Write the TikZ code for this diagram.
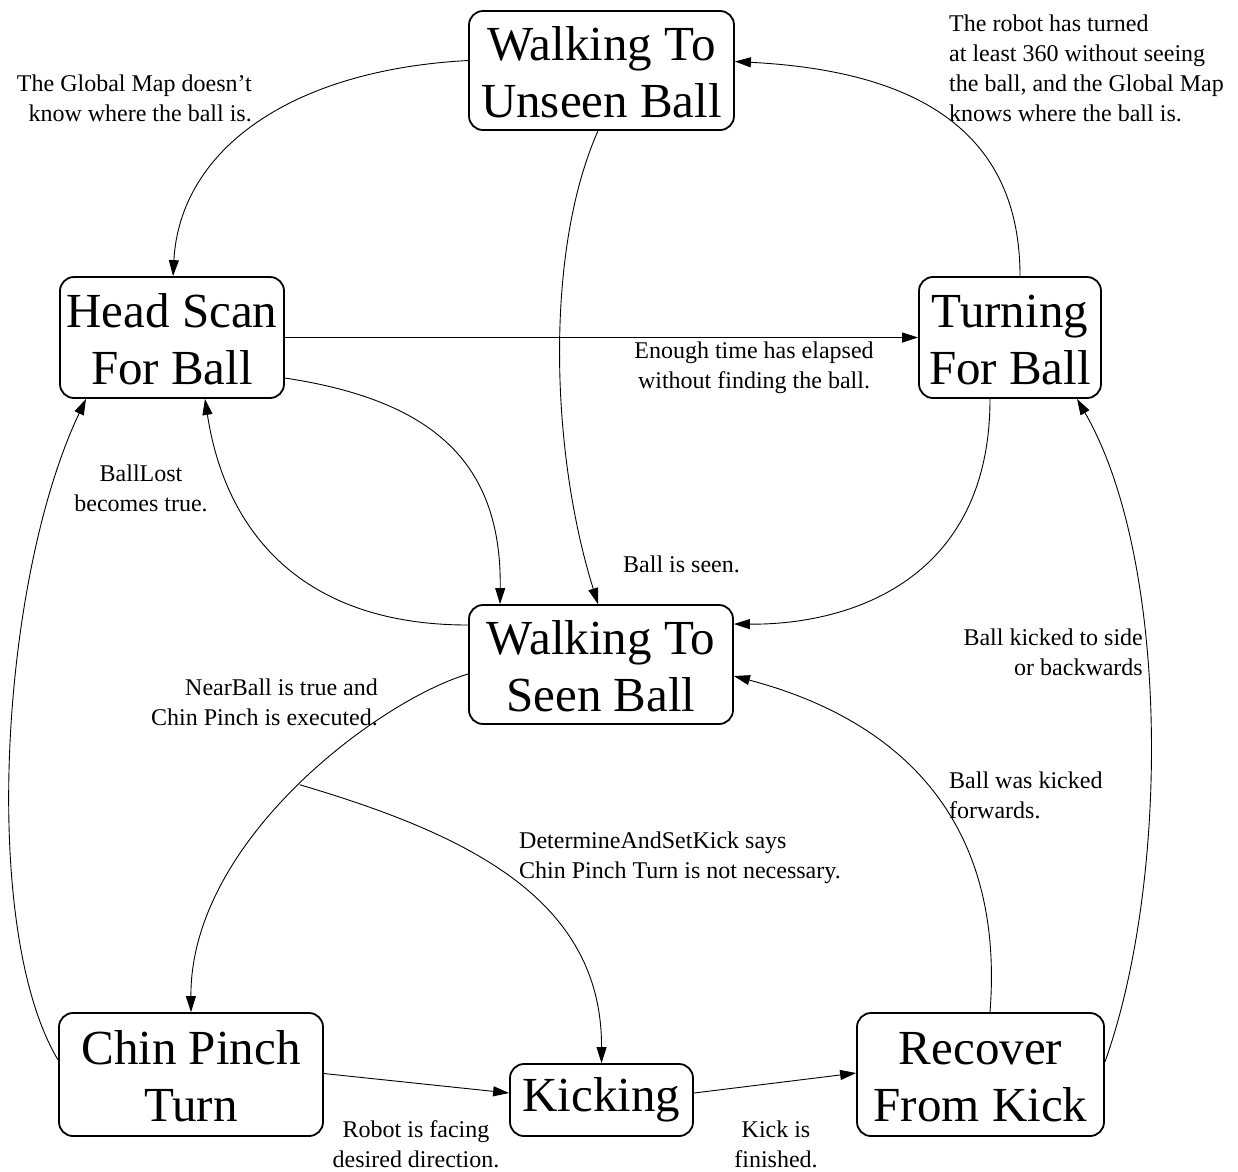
\documentclass[tikz,border=0pt]{standalone}
\usepackage{fontspec}
\setmainfont{Liberation Serif}
\usetikzlibrary{arrows.meta,calc}
\begin{document}
\begin{tikzpicture}[x=1pt,y=-1pt,
  state/.style={draw,line width=1.8pt,rounded corners=14pt,inner sep=0pt,align=center,
    font=\fontsize{49}{57}\selectfont},
  lbl/.style={inner sep=0pt,font=\fontsize{24}{30}\selectfont},
  edge/.style={line width=0.9pt,-{Triangle[length=16pt,width=10pt]}}]
\useasboundingbox (0,0) rectangle (1238,1171);
\fill[white] (0,0) rectangle (1238,1171);

% states
\node[state,minimum width=265pt,minimum height=119pt] (unseen) at (601.5,70.5) {\rule{0pt}{38pt}Walking To\\Unseen Ball};
\node[state,minimum width=224pt,minimum height=121pt] (head) at (172,337.5) {\rule{0pt}{38pt}Head Scan\\For Ball};
\node[state,minimum width=182pt,minimum height=121pt] (turn) at (1010,337.5) {\rule{0pt}{38pt}Turning\\For Ball};
\node[state,minimum width=264pt,minimum height=119pt] (seen) at (601,664.5) {\rule{0pt}{38pt}Walking To\\Seen Ball};
\node[state,minimum width=264pt,minimum height=123pt] (chin) at (191,1074.5) {\rule{0pt}{38pt}Chin Pinch\\Turn};
\node[state,minimum width=183pt,minimum height=72pt] (kick) at (601.5,1100) {Kicking};
\node[state,minimum width=247pt,minimum height=123pt] (recov) at (980.5,1074.5) {\rule{0pt}{38pt}Recover\\From Kick};

% transitions
\draw[edge] ($(unseen.west)+(0,-10)$) .. controls (290,70) and (180,150) .. ($(head.north)+(1,0)$);
\draw[edge] ($(unseen.south)+(-3.5,0)$) .. controls (545,250) and (550,450) .. ($(seen.north)+(-3,0)$);
\draw[edge] ($(turn.north)+(10,0)$) .. controls (1020,120) and (900,70) .. ($(unseen.east)+(0,-9)$);
\draw[edge] (head.east) -- (turn.west);
\draw[edge] ($(head.east)+(0,40.5)$) .. controls (430,400) and (502,460) .. ($(seen.north)+(-101,0)$);
\draw[edge] ($(seen.west)+(0,-39.5)$) .. controls (300,625) and (225,530) .. ($(head.south)+(33,0)$);
\draw[edge] ($(turn.south)+(-20,0)$) .. controls (990,580) and (850,625) .. ($(seen.east)+(0,-40.5)$);
\draw[edge] ($(seen.west)+(0,9.5)$) .. controls (380,700) and (190,840) .. (chin.north) coordinate[pos=0.49] (fork);
\draw[edge] (fork) .. controls (470,835) and (602,900) .. (kick.north);
\draw[edge] ($(chin.west)+(0,-14.5)$) .. controls (-20,930) and (0,580) .. ($(head.south)+(-86,0)$);
\draw[edge] ($(chin.east)+(0,-1)$) -- ($(kick.west)+(0,-7)$);
\draw[edge] ($(kick.east)+(0,-7)$) -- ($(recov.west)+(0,-1.5)$);
\draw[edge] ($(recov.north)+(9.5,0)$) .. controls (1005,820) and (900,720) .. ($(seen.east)+(0,11.5)$);
\draw[edge] ($(recov.east)+(0,-12.5)$) .. controls (1170,880) and (1170,560) .. ($(turn.south)+(67,0)$);

% labels
\node[lbl,align=right,anchor=north east] (l1) at (252,75) {The Global Map doesn't\\know where the ball is.};
\node[lbl,align=left,anchor=north west] (l2) at (949,14.5) {The robot has turned\\at least 360 without seeing\\the ball, and the Global Map\\knows where the ball is.};
\node[lbl,align=center,anchor=north] (l3) at (754,341.5) {Enough time has elapsed\\without finding the ball.};
\node[lbl,anchor=north west] (l4) at (623,555.5) {Ball is seen.};
\node[lbl,align=center,anchor=north] (l5) at (141,465) {BallLost\\becomes true.};
\node[lbl,align=right,anchor=north east] (l6) at (378,678.5) {NearBall is true and\\Chin Pinch is executed.};
\node[lbl,align=left,anchor=north west] (l7) at (519,831.5) {DetermineAndSetKick says\\Chin Pinch Turn is not necessary.};
\node[lbl,align=center,anchor=north] (l8) at (416,1120.5) {Robot is facing\\desired direction.};
\node[lbl,align=center,anchor=north] (l9) at (776,1120.5) {Kick is\\finished.};
\node[lbl,align=left,anchor=north west] (l10) at (949,771.5) {Ball was kicked\\forwards.};
\node[lbl,align=right,anchor=north east] (l11) at (1143,628.5) {Ball kicked to side\\or backwards};
\end{tikzpicture}
\end{document}
